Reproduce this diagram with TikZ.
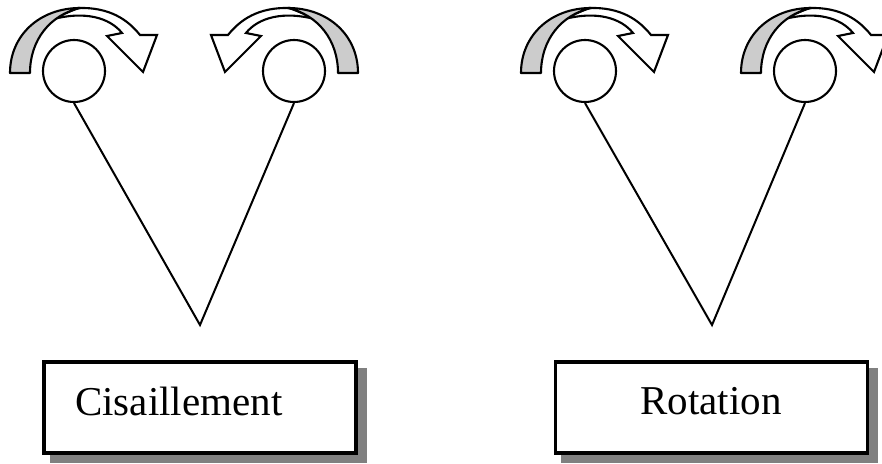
\documentclass[tikz,border=0pt]{standalone}
\usepackage{fontspec}
\setmainfont{Liberation Serif}
\tikzset{
  ring/.style={circle, draw, line width=2.1pt, minimum size=62pt, inner sep=0pt, fill=white},
  leg/.style={line width=2pt},
  labelbox/.style={draw, line width=3.8pt, fill=white, minimum width=312pt, minimum height=91pt, inner sep=0pt},
  shadowbox/.style={fill=black!50, minimum width=317pt, minimum height=95pt, inner sep=0pt},
  labeltext/.style={font=\fontsize{41}{41}\selectfont, inner sep=0pt},
  backface/.style={fill=black!20, draw, line width=2.1pt, line join=round},
  frontface/.style={fill=white, draw, line width=2.1pt, line join=miter},
  spinarrow/.pic={
    \path[frontface] (4,-63) .. controls (36,-64) and (54,-51) .. (66,-36)
      -- (83,-36) -- (69,1) -- (33,-35) -- (48,-38)
      .. controls (36,-53) and (11,-61) .. (-24,-51) -- cycle;
    \path[backface] (-64,2) -- (-44,2) .. controls (-44,-31) and (-24,-56) .. (6,-63)
      .. controls (-34,-63) and (-64,-36) .. (-64,2) -- cycle;
  }
}
\begin{document}
\begin{tikzpicture}[x=1pt, y=-1pt]
  \clip (0,0) rectangle (882,463);
  \fill[white] (0,0) rectangle (882,463);

  % circles
  \node[ring] (c1) at (74,71) {};
  \node[ring] (c2) at (294,71) {};
  \node[ring] (c3) at (585,71) {};
  \node[ring] (c4) at (805,71) {};

  % curved arrows
  \pic at (c1) {spinarrow};
  \pic[xscale=-1] at (c2) {spinarrow};
  \pic at (c3) {spinarrow};
  \pic at (c4) {spinarrow};

  % apexes and legs
  \coordinate (a1) at (200,325);
  \coordinate (a2) at (712,325);
  \draw[leg] (c1.south) -- (a1) -- (c2.south);
  \draw[leg] (c3.south) -- (a2) -- (c4.south);

  % boxes with shadows
  \node[shadowbox] (s1) at (208.5,415.5) {};
  \node[labelbox] (b1) at (200,407.5) {};
  \node[shadowbox] (s2) at (719.5,415.5) {};
  \node[labelbox] (b2) at (711.5,407.5) {};

  \node[labeltext, anchor=base west] (t1) at (75,415) {Cisaillement};
  \node[labeltext, anchor=base] (t2) at (711,414) {Rotation};
\end{tikzpicture}
\end{document}
